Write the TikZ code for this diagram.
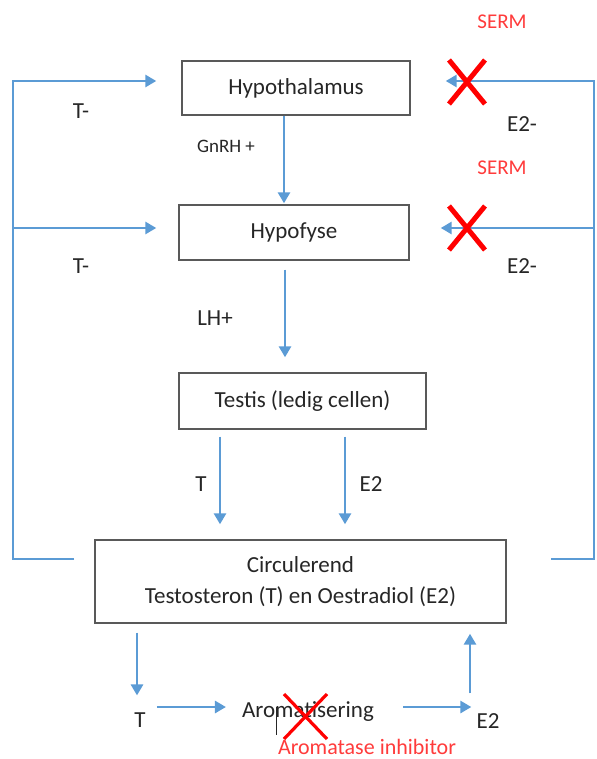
\documentclass[tikz,border=0pt]{standalone}
\usepackage{fontspec}
\setmainfont{Carlito}
\usetikzlibrary{arrows.meta}
\definecolor{flowblue}{HTML}{5B9BD5}
\definecolor{inkgray}{HTML}{262626}
\definecolor{boxgray}{HTML}{595959}
\definecolor{blockred}{HTML}{FF0000}
\definecolor{notered}{HTML}{FF3B3B}
\tikzset{
  organ/.style={draw=boxgray,line width=1.4pt,text=inkgray,inner sep=0pt,
    align=center,font=\fontsize{23}{31}\selectfont},
  lbl/.style={text=inkgray,inner sep=0pt,font=\fontsize{23}{27}\selectfont},
  drug/.style={text=notered,inner sep=0pt,font=\fontsize{21}{25}\selectfont},
  flow/.style={draw=flowblue,line width=2.8pt},
  blocked/.style={draw=blockred,line width=5pt},
}
\begin{document}
\begin{tikzpicture}[x=1pt,y=-1pt,>={Triangle[length=11pt,width=12pt]}]
  \useasboundingbox (0,0) rectangle (596,759);
  % organs
  \node[organ,minimum width=228pt,minimum height=54pt] (hyp) at (296,88) {Hypothalamus};
  \node[organ,minimum width=230pt,minimum height=55pt] (hypo) at (294,232.5) {Hypofyse};
  \node[organ,minimum width=247pt,minimum height=56pt] (testis) at (302.5,401) {Testis (ledig cellen)};
  \node[organ,minimum width=411pt,minimum height=83pt] (circ) at (300.5,581.5)
    {Circulerend\\Testosteron (T) en Oestradiol (E2)};
  % labels
  \node[drug] (serma) at (502,22) {SERM};
  \node[drug] (sermb) at (502,168) {SERM};
  \node[lbl] (tma) at (81,111) {T-};
  \node[lbl] (tmb) at (81,266) {T-};
  \node[lbl] (ema) at (522,124) {E2-};
  \node[lbl] (emb) at (522,266) {E2-};
  \node[lbl,font=\fontsize{19}{23}\selectfont] (gnrh) at (226,146) {GnRH +};
  \node[lbl] (lh) at (215,318) {LH+};
  \node[lbl] (tt) at (201,484) {T};
  \node[lbl] (te) at (371,484) {E2};
  \node[lbl] (tb) at (140,720) {T};
  \node[lbl] (arom) at (308,712) {Aromatisering};
  \node[lbl] (eb) at (488,721) {E2};
  \node[drug,font=\fontsize{22}{26}\selectfont] (ai) at (367,747) {Aromatase inhibitor};
  % feedback loops
  \coordinate (lstub) at (74,559);
  \coordinate (rstub) at (551,559);
  \draw[flow,->] (lstub) -- (13,559) -- (13,81) -- ([shift={(-25pt,7pt)}]hyp.west);
  \draw[flow,->] (13,228) -- ([shift={(-22pt,4.5pt)}]hypo.west);
  \draw[flow,->] (rstub) -- (594,559) -- (594,81) -- ([shift={(35pt,7pt)}]hyp.east);
  \draw[flow,->] (594,228) -- ([shift={(31pt,4.5pt)}]hypo.east);
  % axis
  \draw[flow,->] ([xshift=-12pt]hyp.south) -- ([shift={(-10pt,1pt)}]hypo.north);
  \draw[flow,->,shorten <=9pt,shorten >=15pt] ([xshift=-9pt]hypo.south) -- ([xshift=-17.5pt]testis.north);
  \draw[flow,->,shorten <=7pt,shorten >=15pt] ([xshift=-82.5pt]testis.south) -- ([xshift=-80.5pt]circ.north);
  \draw[flow,->,shorten <=7pt,shorten >=15pt] ([xshift=42.5pt]testis.south) -- ([xshift=44.5pt]circ.north);
  % aromatisation
  \draw[flow,->,shorten <=9pt,shorten >=17pt] ([xshift=-163.5pt]circ.south) -- (tb.north -| 137,0);
  \draw[flow,->,shorten <=11pt,shorten >=16pt] (tb.east |- 0,707) -- (arom.west |- 0,707);
  \draw[flow,->,shorten <=29pt,shorten >=5pt] (arom.east |- 0,707) -- (eb.west |- 0,707);
  \draw[flow,->,shorten <=20pt,shorten >=10pt] (eb.north -| 470,0) -- (circ.south -| 470,0);
  % blocks
  \draw[blocked] (449,60) -- (485,104) (485,60) -- (449,104);
  \draw[blocked] (449,206) -- (485,250) (485,206) -- (449,250);
  \draw[blocked,line width=3.2pt] (284,694) -- (327,739) (327,694) -- (284,739);
  \draw[inkgray,line width=0.8pt] (276,707) -- (276,735);
\end{tikzpicture}
\end{document}
